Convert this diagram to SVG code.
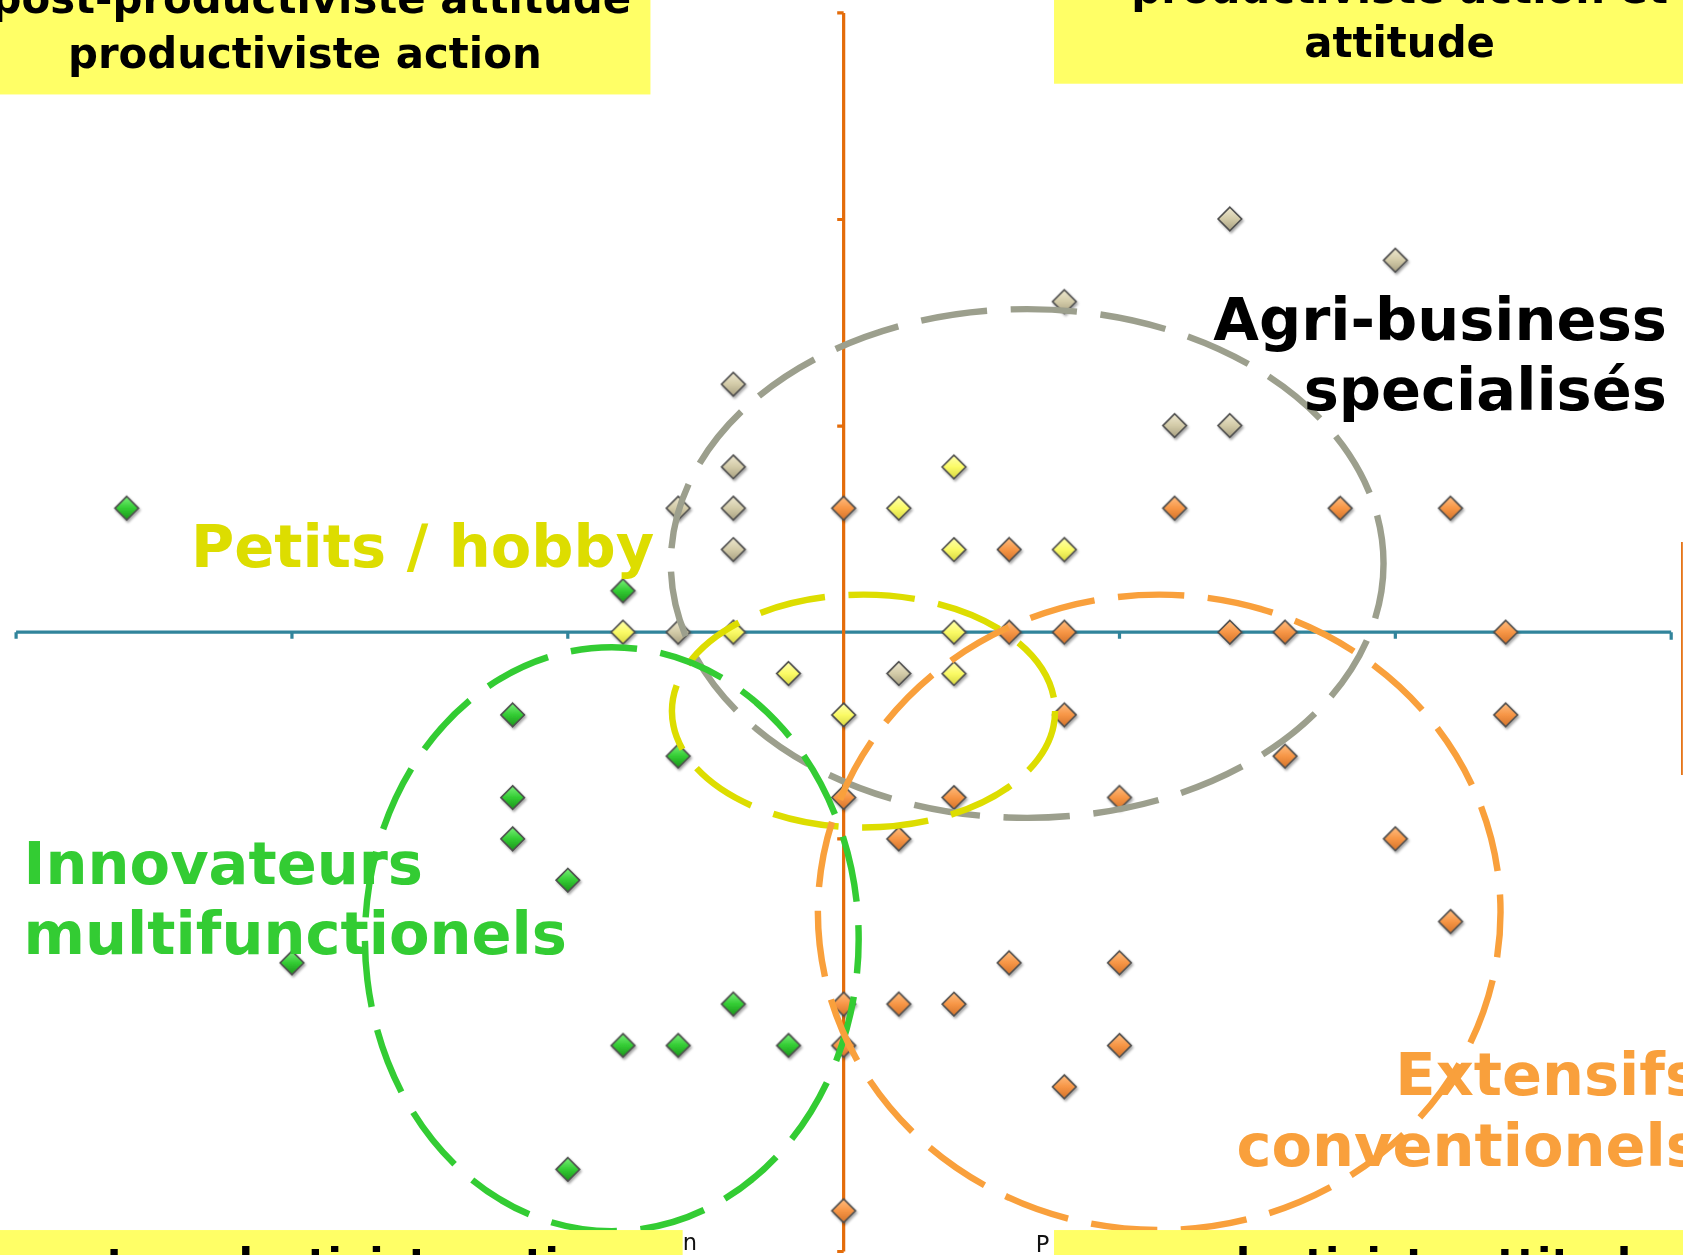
<svg xmlns="http://www.w3.org/2000/svg" xmlns:xlink="http://www.w3.org/1999/xlink" width="1683" height="1255" viewBox="0 0 1683 1255">
<style>
.bg{fill:#ffffff}
.ban{fill:#ffff66}
.bt{font-family:"DejaVu Sans",Verdana,sans-serif;font-weight:bold;font-size:39px;fill:#000}
.lbl{font-family:"DejaVu Sans",Verdana,sans-serif;font-weight:bold;font-size:55px}
.sm{font-family:"DejaVu Sans",sans-serif;font-size:21px;fill:#111}
.ax-h{stroke:#31849b;stroke-width:3;fill:none}
.ax-v{stroke:#e46c0a;stroke-width:3;fill:none}
.ell{fill:none;stroke-width:6;stroke-dasharray:62 22}
.pg{fill:url(#gG)}
.py{fill:url(#gY)}
.pt{fill:url(#gT)}
.po{fill:url(#gO)}
#dia{stroke:#4d4d4d;stroke-width:1.5}
</style>
<defs>
<path id="dia" d="M0,-11 L11,0 L0,11 L-11,0Z"/>
<linearGradient id="gG" x1="0" y1="0" x2="0" y2="1"><stop offset="0" stop-color="#7af07a"/><stop offset="0.5" stop-color="#33cc33"/><stop offset="1" stop-color="#1c941c"/></linearGradient>
<linearGradient id="gY" x1="0" y1="0" x2="0" y2="1"><stop offset="0" stop-color="#ffffb0"/><stop offset="0.5" stop-color="#fbfb66"/><stop offset="1" stop-color="#d8d842"/></linearGradient>
<linearGradient id="gT" x1="0" y1="0" x2="0" y2="1"><stop offset="0" stop-color="#eee8d0"/><stop offset="0.5" stop-color="#d3cba8"/><stop offset="1" stop-color="#a8a082"/></linearGradient>
<linearGradient id="gO" x1="0" y1="0" x2="0" y2="1"><stop offset="0" stop-color="#ffbd80"/><stop offset="0.5" stop-color="#f79646"/><stop offset="1" stop-color="#d5732a"/></linearGradient>
<filter id="sh" x="-30%" y="-30%" width="160%" height="160%"><feDropShadow dx="1.2" dy="1.8" stdDeviation="1.2" flood-color="#000" flood-opacity="0.35"/></filter>
</defs>
<rect class="bg" x="0" y="0" width="1683" height="1255"/>
<g transform="scale(1.07334)">
<g id="axes">
<path class="ax-h" d="M15,589 H1557 M15,589 v6 M272,589 v6 M529,589 v6 M1043,589 v6 M1300,589 v6 M1557,589 v7"/>
<path class="ax-v" d="M786,12 V1166 M780,12 H786 M780,204.5 H786 M780,397 H786 M780,781.5 H786 M780,974 H786 M780,1166 H786"/>
<path d="M1567,505 V722" stroke="#e46c0a" stroke-width="1.6" fill="none"/>
</g>
<g id="points" filter="url(#sh)">
<g id="green-points" class="pg">
<use href="#dia" x="118" y="473.5"/>
<use href="#dia" x="580.4" y="550.5"/>
<use href="#dia" x="477.6" y="666"/>
<use href="#dia" x="631.8" y="704.5"/>
<use href="#dia" x="477.6" y="743"/>
<use href="#dia" x="477.6" y="781.5"/>
<use href="#dia" x="529" y="820"/>
<use href="#dia" x="272" y="897"/>
<use href="#dia" x="683.2" y="935.5"/>
<use href="#dia" x="580.4" y="974"/>
<use href="#dia" x="631.8" y="974"/>
<use href="#dia" x="734.6" y="974"/>
<use href="#dia" x="529" y="1089.5"/>
</g>
<g id="tan-points" class="pt">
<use href="#dia" x="1145.8" y="204"/>
<use href="#dia" x="1300" y="242.5"/>
<use href="#dia" x="991.6" y="281"/>
<use href="#dia" x="683.2" y="358"/>
<use href="#dia" x="683.2" y="435"/>
<use href="#dia" x="631.8" y="473.5"/>
<use href="#dia" x="683.2" y="473.5"/>
<use href="#dia" x="683.2" y="512"/>
<use href="#dia" x="1094.4" y="396.5"/>
<use href="#dia" x="1145.8" y="396.5"/>
<use href="#dia" x="631.8" y="589"/>
<use href="#dia" x="837.4" y="627.5"/>
</g>
<g id="yellow-points" class="py">
<use href="#dia" x="580.4" y="589"/>
<use href="#dia" x="683.2" y="589"/>
<use href="#dia" x="734.6" y="627.5"/>
<use href="#dia" x="786" y="666"/>
<use href="#dia" x="837.4" y="473.5"/>
<use href="#dia" x="888.8" y="435"/>
<use href="#dia" x="888.8" y="512"/>
<use href="#dia" x="991.6" y="512"/>
<use href="#dia" x="888.8" y="589"/>
<use href="#dia" x="888.8" y="627.5"/>
</g>
<g id="orange-points" class="po">
<use href="#dia" x="786" y="473.5"/>
<use href="#dia" x="940.2" y="512"/>
<use href="#dia" x="1094.4" y="473.5"/>
<use href="#dia" x="1248.6" y="473.5"/>
<use href="#dia" x="1351.4" y="473.5"/>
<use href="#dia" x="940.2" y="589"/>
<use href="#dia" x="991.6" y="589"/>
<use href="#dia" x="1145.8" y="589"/>
<use href="#dia" x="1197.2" y="589"/>
<use href="#dia" x="1402.8" y="589"/>
<use href="#dia" x="991.6" y="666"/>
<use href="#dia" x="1402.8" y="666"/>
<use href="#dia" x="1197.2" y="704.5"/>
<use href="#dia" x="786" y="743"/>
<use href="#dia" x="888.8" y="743"/>
<use href="#dia" x="1043" y="743"/>
<use href="#dia" x="837.4" y="781.5"/>
<use href="#dia" x="1300" y="781.5"/>
<use href="#dia" x="1351.4" y="858.5"/>
<use href="#dia" x="940.2" y="897"/>
<use href="#dia" x="1043" y="897"/>
<use href="#dia" x="786" y="935.5"/>
<use href="#dia" x="837.4" y="935.5"/>
<use href="#dia" x="888.8" y="935.5"/>
<use href="#dia" x="786" y="974"/>
<use href="#dia" x="1043" y="974"/>
<use href="#dia" x="991.6" y="1012.5"/>
<use href="#dia" x="786" y="1128"/>
</g>
</g>
<g id="clusters">
<ellipse id="ell-agri" class="ell" stroke="#9c9f8d" cx="957" cy="525" rx="332" ry="237" stroke-dashoffset="10"/>
<ellipse id="ell-petits" class="ell" stroke="#dddd00" cx="804.5" cy="662.5" rx="178.5" ry="108.5"/>
<ellipse id="ell-innov" class="ell" stroke="#33cc33" cx="570" cy="875" rx="230" ry="272" stroke-dashoffset="30"/>
<ellipse id="ell-ext" class="ell" stroke="#f9a03c" cx="1080" cy="850" rx="318" ry="296" stroke-dashoffset="20"/>
</g>
<g id="labels">
<text class="lbl" fill="#000" text-anchor="end" x="1553" y="317">Agri-business</text>
<text class="lbl" fill="#000" text-anchor="end" x="1553" y="382">specialisés</text>
<text class="lbl" fill="#dddd00" x="178" y="528">Petits / hobby</text>
<text class="lbl" fill="#33cc33" x="22" y="824">Innovateurs</text>
<text class="lbl" fill="#33cc33" x="22" y="889">multifunctionels</text>
<text class="lbl" fill="#f9a03c" x="1300" y="1020">Extensifs</text>
<text class="lbl" fill="#f9a03c" x="1152" y="1086">conventionels</text>
</g>
<text class="sm" x="636" y="1165">n</text>
<text class="sm" x="965" y="1166">P</text>
<g id="banner-tl">
<rect class="ban" x="-2" y="-2" width="608" height="90"/>
<text class="bt" text-anchor="middle" x="290" y="12">post-productiviste attitude</text>
<text class="bt" text-anchor="middle" x="284" y="63">productiviste action</text>
</g>
<g id="banner-tr">
<rect class="ban" x="982" y="-2" width="600" height="80"/>
<text class="bt" text-anchor="middle" x="1304" y="3">productiviste action et</text>
<text class="bt" text-anchor="middle" x="1304" y="53">attitude</text>
</g>
<g id="banner-bl">
<rect class="ban" x="-2" y="1146" width="638" height="60"/>
<text class="bt" x="21" y="1192">post-productiviste action</text>
</g>
<g id="banner-br">
<rect class="ban" x="982" y="1146" width="600" height="60"/>
<text class="bt" x="1063" y="1192">productiviste attitude</text>
</g>
</g>
</svg>
